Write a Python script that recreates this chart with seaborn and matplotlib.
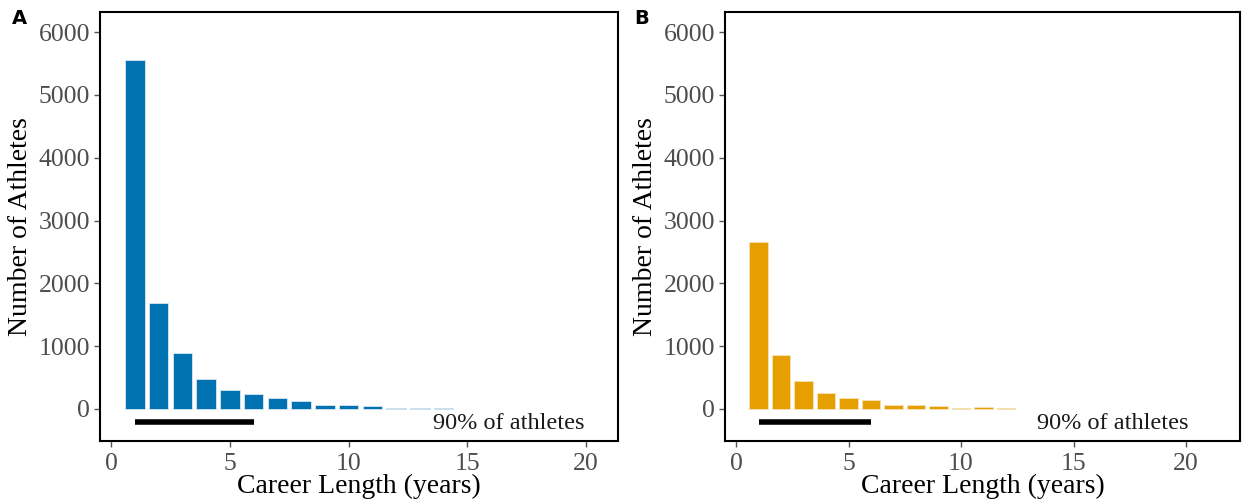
import matplotlib
matplotlib.use("Agg")
import matplotlib.pyplot as plt
import seaborn as sns
import pandas as pd

# Data
years_a = [1, 2, 3, 4, 5, 6, 7, 8, 9, 10, 11, 12, 13, 14]
counts_a = [5550, 1690, 895, 483, 303, 240, 175, 122, 58, 69, 42, 21, 20, 8]
years_b = [1, 2, 3, 4, 5, 6, 7, 8, 9, 10, 11, 12]
counts_b = [2660, 860, 450, 262, 175, 138, 64, 62, 40, 10, 35, 12]
panel_labels = ["A", "B"]
bar_colors = ["#0072B2", "#E69F00"]
span_start, span_end = 1, 6
span_text = "90% of athletes"
x_ticks = [0, 5, 10, 15, 20]
y_ticks = [0, 1000, 2000, 3000, 4000, 5000, 6000]

sns.set_theme(style="white")
plt.rcParams["font.family"] = ["Liberation Serif", "DejaVu Serif"]

fig = plt.figure(figsize=(12.42, 5.01), dpi=100)
W, H = 1242, 501
ax_a = fig.add_axes([100 / W, 60 / H, 518 / W, 429 / H])
ax_b = fig.add_axes([725 / W, 60 / H, 515 / W, 429 / H])

panels = [
    (ax_a, years_a, counts_a, (-0.47, 21.35)),
    (ax_b, years_b, counts_b, (-0.49, 22.4)),
]

for i, (ax, yrs, cnts, xlim) in enumerate(panels):
    df = pd.DataFrame({"years": yrs, "count": cnts})
    sns.barplot(data=df, x="years", y="count", native_scale=True, width=0.82,
                color=bar_colors[i], saturation=1, edgecolor="#dbe9f3" if i == 0 else "#f7e3b8",
                linewidth=0.6, ax=ax, errorbar=None)
    ax.plot([span_start, span_end], [-200, -200], color="black", lw=4,
            solid_capstyle="butt")
    ax.text(16.75, -235, span_text, ha="center", va="center", fontsize=17.5,
            color="#1a1a1a")
    ax.set_xlim(*xlim)
    ax.set_ylim(-510, 6320)
    ax.set_xticks(x_ticks)
    ax.set_yticks(y_ticks)
    ax.tick_params(axis="both", which="both", length=4, width=1, color="#555555",
                   labelcolor="#4D4D4D", labelsize=18.5, direction="out",
                   bottom=True, left=True, pad=3)
    ax.tick_params(axis="x", pad=5)
    ax.set_xlabel("Career Length (years)", fontsize=20, color="black", labelpad=-1)
    ax.set_ylabel("Number of Athletes", fontsize=20, color="black", labelpad=4)
    for s in ax.spines.values():
        s.set_color("black")
        s.set_linewidth(1.5)
    ax.grid(False)

fig.text(12 / W, 1 - 18 / H, panel_labels[0], fontsize=14, fontweight="bold",
         family="DejaVu Sans", ha="left", va="center", color="black")
fig.text(634 / W, 1 - 18 / H, panel_labels[1], fontsize=14, fontweight="bold",
         family="DejaVu Sans", ha="left", va="center", color="black")

fig.savefig("out.png", dpi=100)
